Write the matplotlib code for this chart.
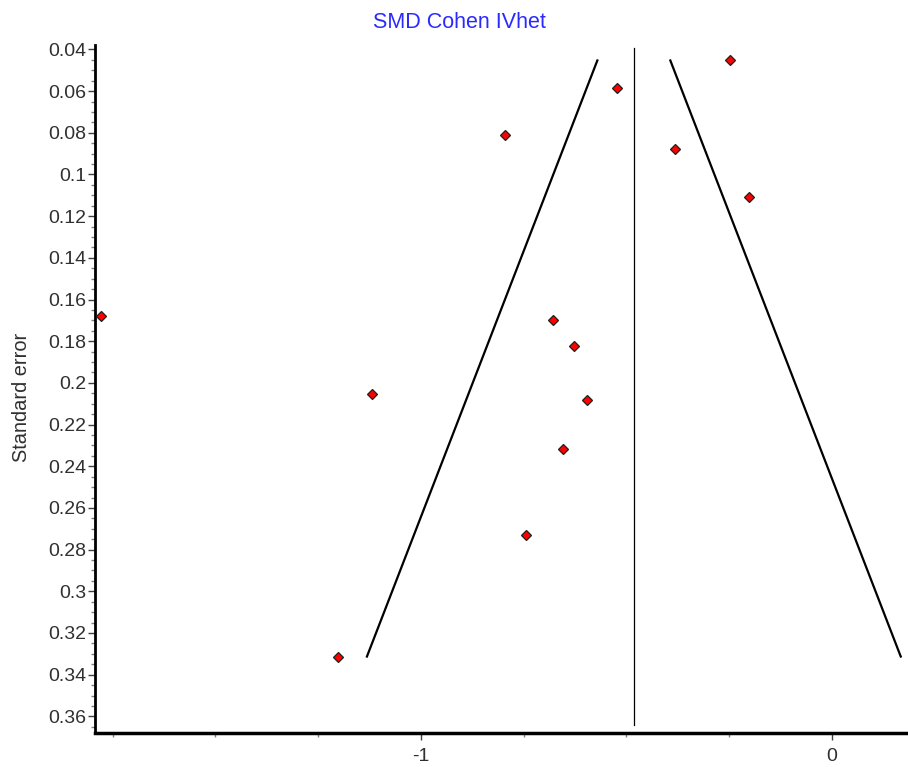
import numpy as np
import matplotlib
matplotlib.use('Agg')
import matplotlib.pyplot as plt
import matplotlib.ticker as mticker

# ── Dati ────────────────────────────────────────────────────────────────────
smd = [-0.248, -0.523, -0.796, -0.382, -0.202, -1.779, -0.679,
       -0.628, -1.119, -0.596, -0.655, -0.745, -1.202]
se  = [0.0453, 0.0587, 0.0813, 0.0880, 0.1110, 0.1680, 0.1696,
       0.1825, 0.2055, 0.2084, 0.2315, 0.2730, 0.3313]
pooled = -0.482
z = 1.96

TITLE = 'SMD Cohen IVhet'
YLABEL = 'Standard error'
y_ticks = np.round(np.arange(0.04, 0.361, 0.02), 2)
x_ticks = [-1, 0]

FONT = ['Liberation Sans', 'DejaVu Sans']
plt.rcParams['font.family'] = FONT

fig = plt.figure(figsize=(9.08, 7.67), dpi=100)
ax = fig.add_axes([0.1046, 0.0443, 0.8954, 0.8967])

# funnel (pooled ± 1.96·SE)
se_line = np.array([min(se), max(se)])
ax.plot(pooled - z * se_line, se_line, color='black', lw=1.6, zorder=2)
ax.plot(pooled + z * se_line, se_line, color='black', lw=1.6, zorder=2)
ax.plot([pooled, pooled], [0.0395, 0.364], color='black', lw=0.9, zorder=2)

ax.plot(smd, se, linestyle='none', marker='D', markersize=5.2,
        markerfacecolor='#ff0000', markeredgecolor='#202020',
        markeredgewidth=0.9, zorder=3, clip_on=False)

ax.set_xlim(-1.793, 0.185)
ax.set_ylim(0.368, 0.038)

ax.set_yticks(y_ticks)
ax.yaxis.set_major_formatter(mticker.FuncFormatter(lambda v, _: f'{v:g}'))
ax.yaxis.set_minor_locator(mticker.MultipleLocator(0.005))
ax.set_xticks(x_ticks)
ax.set_xticklabels([str(v) for v in x_ticks])
ax.xaxis.set_minor_locator(mticker.MultipleLocator(0.25))

ax.tick_params(axis='both', which='major', labelsize=14, color='#404040',
               labelcolor='#303030', width=1, length=5, pad=1)
ax.tick_params(axis='both', which='minor', color='#808080', width=1, length=3)
ax.tick_params(axis='x', which='major', pad=6)

ax.spines[['top', 'right']].set_visible(False)
ax.spines['left'].set_linewidth(2)
ax.spines['bottom'].set_linewidth(2.5)

ax.set_ylabel(YLABEL, fontsize=14.4, color='#303030')
ax.yaxis.set_label_coords(-0.079, 0.488)
fig.text(0.506, 0.971, TITLE, ha='center', va='center', fontsize=15.5,
         color='#2a2aff')

fig.savefig('out.png', dpi=100, facecolor='white')
